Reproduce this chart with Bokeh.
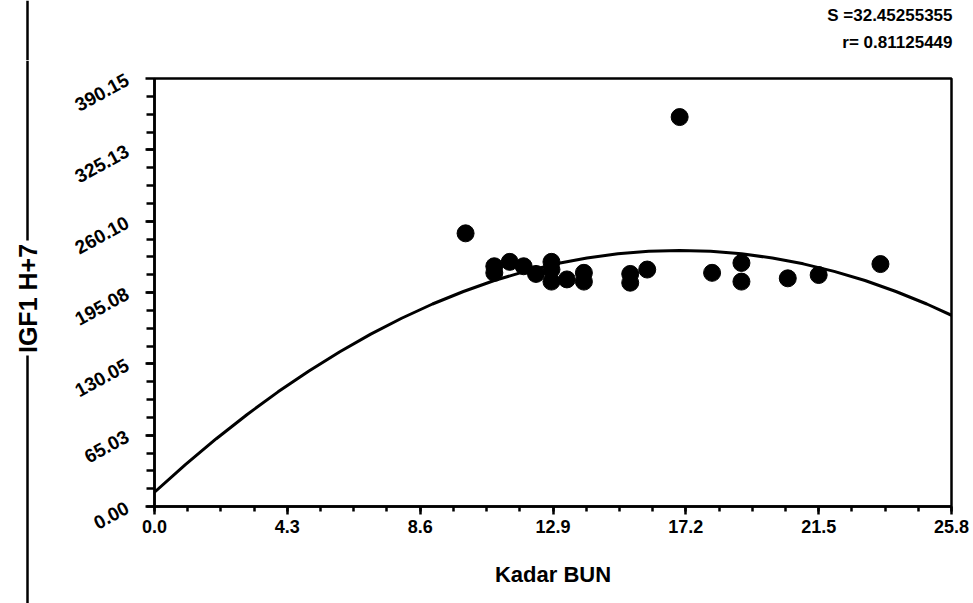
import numpy as np
from bokeh.plotting import figure
from bokeh.layouts import row, column
from bokeh.models import Range1d, FixedTicker
from bokeh.core.properties import value
from bokeh.embed import file_html
from bokeh.resources import INLINE

# ---- data ----
bun = [10.07, 11.0, 11.0, 11.5, 11.95, 12.35, 12.85, 12.85, 12.85, 13.35, 13.9, 13.9,
       15.4, 15.4, 15.95, 17.0, 18.05, 19.0, 19.0, 20.5, 21.5, 23.5]
igf1 = [249, 219, 213, 223, 219, 212, 223, 216, 205, 207, 213, 205,
        212, 204, 216, 355, 213, 222, 205, 208, 211, 221]

curve_x = [0, 1, 2, 3, 4, 5, 6, 7, 8, 9, 10, 11, 12, 13, 14, 15, 16, 17, 18, 19, 20,
           21, 22, 23, 24, 25, 25.8]
curve_y = [13.0, 38.2, 61.8, 83.9, 104.5, 123.6, 141.1, 157.1, 171.6, 184.6, 196.0,
           206.0, 214.3, 221.2, 226.5, 230.4, 232.6, 233.4, 232.6, 230.4, 226.5,
           221.2, 214.3, 206.0, 196.0, 184.6, 174.3]

x_ticks = [0.0, 4.3, 8.6, 12.9, 17.2, 21.5, 25.8]
x_tick_labels = ["0.0", "4.3", "8.6", "12.9", "17.2", "21.5", "25.8"]
y_ticks = [0.0, 65.025, 130.05, 195.075, 260.1, 325.125, 390.15]
y_tick_labels = ["0.00", "65.03", "130.05", "195.08", "260.10", "325.13", "390.15"]

stats_s = "S =32.45255355"
stats_r = "r= 0.81125449"
x_title = "Kadar BUN"
y_title = "IGF1 H+7"

FONT = "Liberation Sans"


def bare(w, h):
    f = figure(width=w, height=h, output_backend="svg", toolbar_location=None,
               x_range=Range1d(0, w), y_range=Range1d(0, h),
               x_axis_location=None, y_axis_location=None,
               min_border=0, outline_line_color=None)
    f.xgrid.visible = False
    f.ygrid.visible = False
    return f


# ---- top strip with the fit statistics ----
top = bare(973, 60)
top.segment(x0=[27], y0=[0], x1=[27], y1=[60], line_color="black", line_width=2.5)
top.text(x=[952, 952], y=[45, 18], text=[stats_s, stats_r],
         text_align="right", text_baseline="middle",
         text_font=value(FONT), text_font_style="bold", text_font_size="17px",
         text_color="black")

# ---- left strip with the vertical rule and y title ----
left = bare(60, 543)
left.segment(x0=[27, 27], y0=[0, 363], x1=[27, 27], y1=[248, 543],
             line_color="black", line_width=2.5)
left.text(x=[27], y=[305], text=[y_title], angle=np.pi / 2,
          text_align="center", text_baseline="middle",
          text_font=value(FONT), text_font_style="bold", text_font_size="25px",
          text_color="black")

# ---- main plot ----
p = figure(width=913, height=543, output_backend="svg", toolbar_location=None,
           x_range=Range1d(0, 25.8), y_range=Range1d(0, 390.15),
           min_border_left=94, min_border_right=22, min_border_top=18,
           min_border_bottom=97)
for fig in (top, left, p):
    try:
        fig.frame_align = False
    except Exception:
        pass
p.xgrid.visible = False
p.ygrid.visible = False
p.outline_line_color = "black"
p.outline_line_width = 2.5

p.line(curve_x, curve_y, line_color="black", line_width=3)
p.scatter(bun, igf1, size=17, fill_color="black", line_color="black")

minor_x = list(np.arange(0, 25.8 + 0.01, 4.3 / 4))
minor_y = list(np.arange(0, 390.15 + 0.01, 65.025 / 4))
p.xaxis.ticker = FixedTicker(ticks=x_ticks, minor_ticks=minor_x)
p.yaxis.ticker = FixedTicker(ticks=y_ticks, minor_ticks=minor_y)
p.xaxis.major_label_overrides = {t: s for t, s in zip(x_ticks, x_tick_labels)}
p.yaxis.major_label_overrides = {t: s for t, s in zip(y_ticks, y_tick_labels)}

for ax in (p.xaxis[0], p.yaxis[0]):
    ax.axis_line_width = 2.5
    ax.axis_line_color = "black"
    ax.major_tick_line_width = 2.5
    ax.minor_tick_line_width = 2.5
    ax.major_tick_line_color = "black"
    ax.minor_tick_line_color = "black"
    ax.major_tick_in = 0
    ax.minor_tick_in = 0
    ax.major_label_text_font = FONT
    ax.major_label_text_font_style = "bold"
    ax.major_label_text_font_size = "18px"
    ax.major_label_text_color = "black"

p.yaxis.major_label_text_font_size = "19px"
p.xaxis.major_tick_out = 8
p.xaxis.minor_tick_out = 5
p.yaxis.major_tick_out = 9
p.yaxis.minor_tick_out = 8
p.yaxis.major_label_orientation = 0.5
p.yaxis.major_label_standoff = 18

p.xaxis.axis_label = x_title
p.xaxis.axis_label_text_font = FONT
p.xaxis.axis_label_text_font_style = "bold"
p.xaxis.axis_label_text_font_size = "22px"
p.xaxis.axis_label_text_color = "black"
p.xaxis.axis_label_standoff = 26

layout = column(top, row(left, p))
open("out.html", "w").write(file_html(layout, INLINE))
